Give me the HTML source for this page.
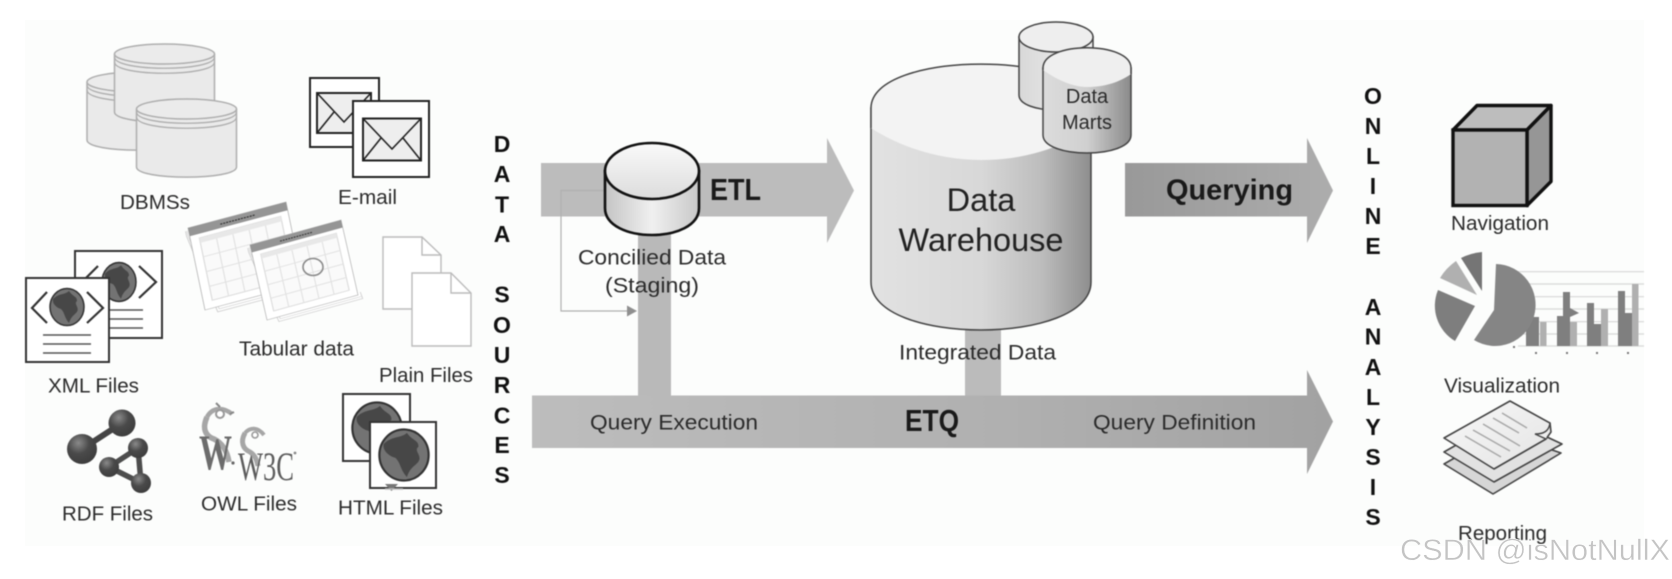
<!DOCTYPE html>
<html><head><meta charset="utf-8"><style>
html,body{margin:0;padding:0;background:#fff;width:1672px;height:579px;overflow:hidden}
svg{display:block}
text{font-family:"Liberation Sans",sans-serif;fill:#2b2b2b;font-size:20.5px}
.c{text-anchor:middle;font-weight:bold;font-size:23px;fill:#111}
.b{font-weight:bold;fill:#1a1a1a;font-size:31px}
</style></head><body>
<svg width="1672" height="579" viewBox="0 0 1672 579" xmlns="http://www.w3.org/2000/svg">
<defs>
<linearGradient id="dw" x1="0" x2="1" y1="0" y2="0"><stop offset="0" stop-color="#e2e2e2"/><stop offset=".5" stop-color="#d8d8d8"/><stop offset=".78" stop-color="#bcbcbc"/><stop offset="1" stop-color="#8e8e8e"/></linearGradient>
<linearGradient id="st" x1="0" x2="1" y1="0" y2="0"><stop offset="0" stop-color="#c4c4c4"/><stop offset=".5" stop-color="#f0f0f0"/><stop offset="1" stop-color="#c8c8c8"/></linearGradient>
<linearGradient id="stt" x1="0" x2="0" y1="0" y2="1"><stop offset="0" stop-color="#fafafa"/><stop offset="1" stop-color="#dcdcdc"/></linearGradient>
<linearGradient id="m1" x1="0" x2="1" y1="0" y2="0"><stop offset="0" stop-color="#d8d8d8"/><stop offset="1" stop-color="#f2f2f2"/></linearGradient>
<linearGradient id="m2" x1="0" x2="1" y1="0" y2="0"><stop offset="0" stop-color="#dcdcdc"/><stop offset=".5" stop-color="#d0d0d0"/><stop offset="1" stop-color="#8a8a8a"/></linearGradient>
<linearGradient id="q" x1="0" x2="1" y1="0" y2="0"><stop offset="0" stop-color="#999"/><stop offset="1" stop-color="#adadad"/></linearGradient>
<linearGradient id="e" x1="0" x2="1" y1="0" y2="0"><stop offset="0" stop-color="#bdbdbd"/><stop offset=".6" stop-color="#b0b0b0"/><stop offset="1" stop-color="#a2a2a2"/></linearGradient>
<linearGradient id="p" x1="0" x2="1" y1="0" y2="1"><stop offset="0" stop-color="#f8f8f8"/><stop offset="1" stop-color="#e4e4e4"/></linearGradient>
<radialGradient id="ball" cx=".38" cy=".3" r=".8"><stop offset="0" stop-color="#8a8a8a"/><stop offset=".45" stop-color="#4a4a4a"/><stop offset="1" stop-color="#3a3a3a"/></radialGradient>
<g id="dbc"><path d="M-50,0 V58 C-50,71.5 50,71.5 50,58 V0" fill="#eaeaea" stroke="#aeaeae" stroke-width="1.5"/><ellipse cx="0" cy="0" rx="50" ry="10" fill="#ebebeb" stroke="#aeaeae" stroke-width="1.5"/><path d="M-50,3 C-50,18 50,18 50,3 M-50,8 C-50,23 50,23 50,8" fill="none" stroke="#aeaeae" stroke-width="1.3"/></g>
<g id="globe"><ellipse rx="17" ry="18.5" fill="#737373" stroke="#333" stroke-width="1.5"/><path d="M-14,-8 C-8,-14 -2,-12 2,-16 C6,-10 10,-11 10,-6 C6,-3 14,1 9,6 C6,9 4,10 2,16 C-3,10 -2,6 -6,2 C-10,1 -15,-3 -14,-8Z" fill="#474747"/></g>
<g id="cal"><path d="M-3,3 L-3,9 L12,106 L104,106 L103,97" fill="#fff" stroke="#d0d0d0" stroke-width="1"/><path d="M-1.5,3 L-1.5,9 L14,103 L103,103" fill="none" stroke="#d0d0d0" stroke-width=".8"/><rect x="0" y="0" width="100" height="100" fill="#fff" stroke="#b4b4b4" stroke-width=".8"/><rect x="0" y="0" width="100" height="10" fill="#959595"/><line x1="32" x2="68" y1="5.5" y2="5.5" stroke="#333" stroke-width="1.4" stroke-dasharray="2 1"/><rect x="9" y="15" width="83" height="76" fill="#fafafa" stroke="#dcdcdc" stroke-width="1.2"/><rect x="9" y="15" width="83" height="6" fill="#e8e8e8"/><path d="M25.6,21V91M42.2,21V91M58.8,21V91M75.4,21V91M9,38H92M9,56H92M9,74H92" stroke="#e2e2e2" stroke-width="1.2" fill="none"/></g>
</defs>
<rect width="1672" height="579" fill="#fff"/>
<rect x="25" y="20" width="1619" height="526" fill="#fcfdfc"/>
<g style="filter:blur(.65px)">
<!-- arrows -->
<path d="M541,163H827V138L854,190.5L827,243V216.5H541Z" fill="#bcbcbc"/>
<rect x="638" y="230" width="33" height="166" fill="#b9b9b9"/>
<rect x="965" y="325" width="36" height="71" fill="#bbbbbb"/>
<path d="M532,395.5H1307V370L1333,421.5L1307,474V448H532Z" fill="url(#e)"/>
<path d="M1125,163H1307V138L1333,190.5L1307,243V216.5H1125Z" fill="url(#q)"/>
<!-- thin connector -->
<path d="M606,190.5H561V311H628" fill="none" stroke="#b0b0b0" stroke-width="1.2"/>
<path d="M627,305.5L637,311L627,316.5Z" fill="#8f8f8f"/>
<!-- staging -->
<path d="M605,171V208C605,244 699,244 699,208V171Z" fill="url(#st)" stroke="#111" stroke-width="2.6"/>
<ellipse cx="652" cy="171" rx="47" ry="28" fill="url(#stt)" stroke="#111" stroke-width="2.6"/>
<!-- DW -->
<path d="M871,108V282C871,346 1091,346 1091,282V108Z" fill="url(#dw)" stroke="#444" stroke-width="1.5"/>
<path d="M871,128C905,150 945,160 981,160C1020,160 1058,150 1091,128V108C1091,49.5 871,49.5 871,108Z" fill="#f3f3f3"/>
<path d="M871,128V108C871,49.5 1091,49.5 1091,108V128" fill="none" stroke="#444" stroke-width="1.5"/>
<path d="M1019,37V95C1019,115 1093,115 1093,95V37Z" fill="url(#m1)" stroke="#444" stroke-width="1.5"/>
<ellipse cx="1056" cy="37" rx="37" ry="15" fill="#eeeeee" stroke="#444" stroke-width="1.5"/>
<path d="M1043,68V135C1043,159 1131,159 1131,135V68Z" fill="url(#m2)" stroke="#444" stroke-width="1.5"/>
<path d="M1043,70C1060,82 1075,87 1087,87C1105,87 1120,82 1131,74V68C1131,41 1043,41 1043,68Z" fill="#efefef"/>
<path d="M1043,70V68C1043,41 1131,41 1131,68V74" fill="none" stroke="#444" stroke-width="1.5"/>
<!-- DBMS -->
<use href="#dbc" x="137" y="82"/>
<use href="#dbc" x="164.5" y="54"/>
<use href="#dbc" x="186.5" y="109"/>
<!-- email -->
<rect x="310" y="78" width="69" height="69" fill="#fff" stroke="#222" stroke-width="2"/>
<rect x="317" y="93" width="54" height="40" fill="#eee" stroke="#222" stroke-width="2"/>
<path d="M317,93L344,122L371,93M317,133L334,112M371,133L354,112" fill="none" stroke="#222" stroke-width="1.6"/>
<rect x="353" y="101" width="76" height="76" fill="#fff" stroke="#222" stroke-width="2"/>
<rect x="363" y="118.5" width="58" height="42" fill="#eee" stroke="#222" stroke-width="2"/>
<path d="M363,118.5L392,149L421,118.5M363,160.5L381,138M421,160.5L403,138" fill="none" stroke="#222" stroke-width="1.6"/>
<!-- calendars -->
<use href="#cal" transform="matrix(.98,-.26,.17,.82,188,228)"/>
<use href="#cal" transform="matrix(.91,-.25,.17,.75,250,245)"/>
<ellipse cx="313" cy="267" rx="10" ry="8.5" fill="none" stroke="#8a8a8a" stroke-width="1.6"/>
<!-- plain files -->
<path d="M383,237H422L441,255V309H383Z" fill="#fff" stroke="#bbb" stroke-width="1.4"/>
<path d="M422,237V255H441" fill="none" stroke="#bbb" stroke-width="1.4"/>
<path d="M412,273H451L471,293V346H412Z" fill="#fff" stroke="#bbb" stroke-width="1.4"/>
<path d="M451,273V293H471" fill="none" stroke="#bbb" stroke-width="1.4"/>
<!-- XML -->
<rect x="75" y="251" width="87" height="87" fill="#fff" stroke="#333" stroke-width="2"/>
<use href="#globe" transform="translate(119,282) scale(1,1.05)"/>
<path d="M139,266L156,282L139,298M98,266L84,280L92,290" fill="none" stroke="#333" stroke-width="2.2"/>
<path d="M110,310H143M110,319H143M110,328H143" stroke="#555" stroke-width="1.6"/>
<rect x="26" y="278" width="83" height="84" fill="#fff" stroke="#333" stroke-width="2"/>
<use href="#globe" x="67" y="307"/>
<path d="M47,292L32,308L47,323M87,292L103,308L87,323" fill="none" stroke="#333" stroke-width="2.2"/>
<path d="M43,335H91M43,344H91M43,353H91" stroke="#555" stroke-width="1.6"/>
<!-- RDF -->
<path d="M122,423L82,449" stroke="#444" stroke-width="6" fill="none"/>
<path d="M138,448L109,467L141,483Z" fill="none" stroke="#4d4d4d" stroke-width="5.5"/>
<circle cx="122" cy="423" r="13.5" fill="url(#ball)"/><circle cx="82" cy="449" r="15" fill="url(#ball)"/><circle cx="138" cy="448" r="10" fill="url(#ball)"/><circle cx="109" cy="467" r="10" fill="url(#ball)"/><circle cx="141" cy="483" r="10" fill="url(#ball)"/>
<!-- OWL -->
<path d="M207,417C202,428 205,436 214,439C222,443 227,450 229,462" fill="none" stroke="#a6a6a6" stroke-width="5.5"/>
<path d="M207,417C212,408 222,406 232,414" fill="none" stroke="#a6a6a6" stroke-width="4.5"/>
<circle cx="220" cy="414" r="4" fill="#fff" stroke="#999" stroke-width="2"/>
<path d="M216,403l4,4M234,412l-4,2" stroke="#888" stroke-width="2"/>
<path d="M245,433C240,442 243,449 250,452C255,455 257,460 258,466" fill="none" stroke="#a6a6a6" stroke-width="5"/>
<path d="M245,433C250,427 258,427 264,435" fill="none" stroke="#a6a6a6" stroke-width="4"/>
<circle cx="255" cy="435" r="3" fill="#fff" stroke="#999" stroke-width="1.6"/>
<text x="199" y="469" textLength="33" lengthAdjust="spacingAndGlyphs" style="font-family:'Liberation Serif',serif;font-weight:bold;font-size:50px;fill:#6c6c6c">W</text>
<circle cx="233" cy="463" r="1.6" fill="#666"/>
<text x="238" y="480" textLength="56" lengthAdjust="spacingAndGlyphs" style="font-family:'Liberation Serif',serif;font-size:40px;fill:#5c5c5c">W3C</text>
<circle cx="295" cy="453" r="1.4" fill="#888"/>
<!-- HTML -->
<rect x="343" y="394" width="67" height="67" fill="#fff" stroke="#333" stroke-width="2"/>
<use href="#globe" transform="translate(377,428) scale(1.45,1.38)"/>
<rect x="370" y="422" width="66" height="66" fill="#fff" stroke="#333" stroke-width="2"/>
<use href="#globe" transform="translate(404,455) scale(1.45,1.38)"/>
<path d="M385,484H398L391.5,491Z" fill="#777"/>
<path d="M385,489H403" stroke="#bbb" stroke-width="1.4"/>
<!-- cube -->
<path d="M1453,130L1477,105.5H1551L1527,130Z" fill="#bdbdbd" stroke="#111" stroke-width="3.4" stroke-linejoin="round"/>
<path d="M1527,130L1551,105.5V181.5L1527,205.5Z" fill="#969696" stroke="#111" stroke-width="3.4" stroke-linejoin="round"/>
<rect x="1453" y="130" width="74" height="75.5" fill="#b2b2b2" stroke="#111" stroke-width="3.4"/>
<!-- chart -->
<path d="M1518,271.7H1644M1518,284H1644M1518,296.7H1644M1518,309H1644M1518,321.7H1644M1518,334H1644M1518,346H1644" stroke="#d8d8d8" stroke-width="1.2"/>
<g fill="#7f7f7f">
<rect x="1526" y="317" width="13" height="29"/><rect x="1557" y="316" width="6" height="30"/><rect x="1563" y="292" width="7" height="54"/><rect x="1587" y="303" width="7" height="43"/><rect x="1594" y="324" width="7" height="22"/><rect x="1618" y="291" width="7" height="55"/><rect x="1625" y="313" width="7" height="33"/></g>
<g fill="#b0b0b0"><rect x="1540" y="322" width="6.5" height="24"/><rect x="1570" y="322" width="7" height="24"/><rect x="1601" y="309" width="7" height="37"/><rect x="1632" y="284" width="6.5" height="62"/></g>
<path d="M1570,308L1579,313L1570,317Z" fill="#7f7f7f"/>
<path d="M1513,347h2M1535,353h2M1566,353h2M1596,353h2M1627,353h2" stroke="#777" stroke-width="2"/>
<path d="M1494,310L1496,264A40.5,41 0 1 1 1474,340Z" fill="#858585"/>
<path d="M1475,306L1438,290A41,41 0 0 0 1455,341Z" fill="#7e7e7e"/>
<path d="M1477,295L1440,278Q1446,268 1456,261Z" fill="#b0b0b0"/>
<path d="M1482,291L1461,258Q1471,253 1482,252Z" fill="#757575"/>
<!-- reports -->
<path d="M1444,464L1500,432L1561,453L1493,494Z" fill="#d6d6d6" stroke="#444" stroke-width="1.6" stroke-linejoin="round"/>
<path d="M1444,452L1500,420L1547,437L1562,444L1494,482Z" fill="#e2e2e2" stroke="#444" stroke-width="1.6" stroke-linejoin="round"/>
<path d="M1444,438L1510,401L1550,423L1551,432L1546,439L1494,469Z" fill="url(#p)" stroke="#444" stroke-width="1.6" stroke-linejoin="round"/>
<path d="M1550,423C1549,431 1544,434 1535,434L1546,439" fill="#efefef" stroke="#444" stroke-width="1.4"/>
<path d="M1502,413L1527,428M1493,418L1519,433M1483,424L1520,446M1473,430L1510,451M1465,436L1501,457" stroke="#a8a8a8" stroke-width="1.5"/>
<!-- labels -->
<text x="120" y="209" textLength="70" lengthAdjust="spacingAndGlyphs">DBMSs</text>
<text x="338" y="204" textLength="59" lengthAdjust="spacingAndGlyphs">E-mail</text>
<text x="239" y="355.5" textLength="115" lengthAdjust="spacingAndGlyphs">Tabular data</text>
<text x="379" y="382" textLength="94" lengthAdjust="spacingAndGlyphs">Plain Files</text>
<text x="48" y="392.5" textLength="91" lengthAdjust="spacingAndGlyphs">XML Files</text>
<text x="62" y="520.5" textLength="91" lengthAdjust="spacingAndGlyphs">RDF Files</text>
<text x="201" y="510.5" textLength="96" lengthAdjust="spacingAndGlyphs">OWL Files</text>
<text x="338" y="514.5" textLength="105" lengthAdjust="spacingAndGlyphs">HTML Files</text>
<text x="578" y="264.5" textLength="148" lengthAdjust="spacingAndGlyphs" style="font-size:21.5px">Concilied Data</text>
<text x="605" y="292.5" textLength="94" lengthAdjust="spacingAndGlyphs" style="font-size:21.5px">(Staging)</text>
<text x="710" y="200" textLength="51" lengthAdjust="spacingAndGlyphs" class="b">ETL</text>
<text x="905" y="431" textLength="54" lengthAdjust="spacingAndGlyphs" class="b">ETQ</text>
<text x="1166" y="199.5" textLength="127" lengthAdjust="spacingAndGlyphs" class="b" style="font-size:29px">Querying</text>
<text x="899" y="359.5" textLength="157" lengthAdjust="spacingAndGlyphs" style="font-size:21.5px">Integrated Data</text>
<text x="590" y="429.5" textLength="168" lengthAdjust="spacingAndGlyphs" style="font-size:21.5px">Query Execution</text>
<text x="1093" y="429.5" textLength="163" lengthAdjust="spacingAndGlyphs" style="font-size:21.5px">Query Definition</text>
<text x="981" y="211" text-anchor="middle" style="font-size:32.5px;fill:#222">Data</text>
<text x="981" y="251" text-anchor="middle" style="font-size:32.5px;fill:#222">Warehouse</text>
<text x="1087" y="103" text-anchor="middle" style="font-size:20px">Data</text>
<text x="1087" y="129" text-anchor="middle" style="font-size:20px">Marts</text>
<text x="1451" y="230" textLength="98" lengthAdjust="spacingAndGlyphs">Navigation</text>
<text x="1444" y="392.5" textLength="116" lengthAdjust="spacingAndGlyphs">Visualization</text>
<text x="1458" y="540" textLength="89" lengthAdjust="spacingAndGlyphs">Reporting</text>
<!-- vertical letters -->
<text class="c" x="502" y="152">D</text><text class="c" x="502" y="182">A</text><text class="c" x="502" y="212.5">T</text><text class="c" x="502" y="242">A</text>
<text class="c" x="502" y="302.5">S</text><text class="c" x="502" y="333">O</text><text class="c" x="502" y="363">U</text><text class="c" x="502" y="393">R</text><text class="c" x="502" y="423.5">C</text><text class="c" x="502" y="453">E</text><text class="c" x="502" y="483">S</text>
<text class="c" x="1373" y="104">O</text><text class="c" x="1373" y="134">N</text><text class="c" x="1373" y="164">L</text><text class="c" x="1373" y="194">I</text><text class="c" x="1373" y="224">N</text><text class="c" x="1373" y="254">E</text>
<text class="c" x="1373" y="315">A</text><text class="c" x="1373" y="344.5">N</text><text class="c" x="1373" y="375">A</text><text class="c" x="1373" y="405">L</text><text class="c" x="1373" y="435">Y</text><text class="c" x="1373" y="465">S</text><text class="c" x="1373" y="495">I</text><text class="c" x="1373" y="525">S</text>
</g>
<text x="1400" y="560" textLength="270" lengthAdjust="spacingAndGlyphs" style="font-size:30px;fill:#c4c4c4;stroke:#fff;stroke-width:.4px">CSDN @isNotNullX</text>
</svg>
</body></html>
